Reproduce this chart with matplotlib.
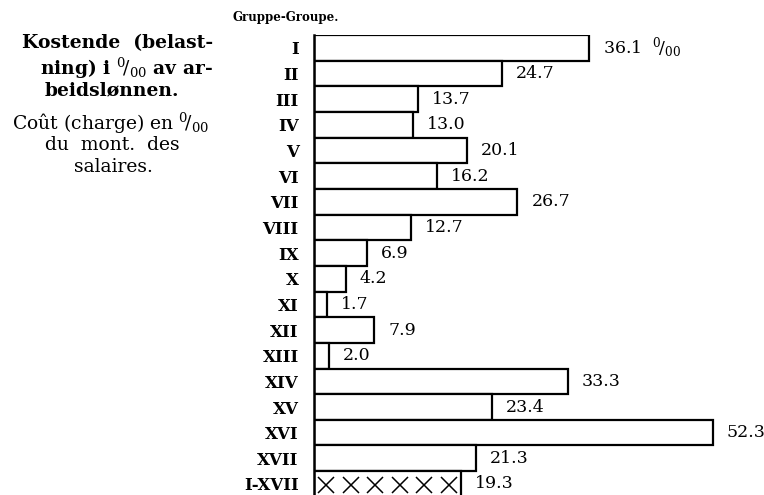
import numpy as np
import matplotlib.pyplot as plt

plt.rcParams['font.family'] = 'DejaVu Serif'
plt.rcParams['mathtext.fontset'] = 'dejavuserif'

# Data
groups = ['I', 'II', 'III', 'IV', 'V', 'VI', 'VII', 'VIII', 'IX', 'X',
          'XI', 'XII', 'XIII', 'XIV', 'XV', 'XVI', 'XVII', 'I-XVII']
values = [36.1, 24.7, 13.7, 13.0, 20.1, 16.2, 26.7, 12.7, 6.9, 4.2,
          1.7, 7.9, 2.0, 33.3, 23.4, 52.3, 21.3, 19.3]
permille = r'$^{0}\!/_{00}$'

fig = plt.figure(figsize=(7.64, 4.95), dpi=100)
ax = fig.add_axes([314 / 764, 0, 450 / 764, 460 / 495])

y = np.arange(len(groups))
bars = ax.barh(y, values, height=1.0, color='white', edgecolor='black',
               linewidth=1.6)

# the total row is marked with a row of crosses
n_cross = 6
total = values[-1]
cross_x = (np.arange(n_cross) + 0.5) * total / n_cross
ax.plot(cross_x, np.full(n_cross, y[-1] + 0.05), linestyle='none',
        marker='x', markersize=11, markeredgewidth=1.1, color='black')

ax.set_xlim(0, 59.05)
ax.set_ylim(17.43, -0.5)

for spine in ['top', 'right', 'bottom']:
    ax.spines[spine].set_visible(False)
ax.spines['left'].set_linewidth(1.8)
ax.set_xticks([])
ax.set_yticks(y)
ax.set_yticklabels(groups, fontweight='bold', fontsize=12)
ax.tick_params(axis='y', length=0, pad=11)

# value labels
for i, (bar, v) in enumerate(zip(bars, values)):
    label = f'{v:.1f}'
    if i == 0:
        label += '  ' + permille
    ax.annotate(label, xy=(bar.get_width(), bar.get_y() + bar.get_height() / 2),
                xytext=(10, 0), textcoords='offset points',
                ha='left', va='center', fontsize=12.5)

fig.text(233 / 764, 1 - 18 / 495, 'Gruppe-Groupe.', fontsize=8.5,
         fontweight='bold', ha='left', va='center')

# left-hand caption
fig.text(213 / 764, 1 - 43 / 495, 'Kostende  (belast-', fontsize=13.5,
         fontweight='bold', ha='right', va='center')
fig.text(213 / 764, 1 - 68 / 495, 'ning) i ' + permille + ' av ar-',
         fontsize=13.5, fontweight='bold', ha='right', va='center')
fig.text(45 / 764, 1 - 90 / 495, 'beidslønnen.', fontsize=13.5,
         fontweight='bold', ha='left', va='center')
fig.text(111 / 764, 1 - 123 / 495, 'Coût (charge) en ' + permille,
         fontsize=13.5, ha='center', va='center')
fig.text(112 / 764, 1 - 145 / 495, 'du  mont.  des', fontsize=13.5,
         ha='center', va='center')
fig.text(113 / 764, 1 - 167 / 495, 'salaires.', fontsize=13.5,
         ha='center', va='center')

fig.savefig('out.png', dpi=100)
